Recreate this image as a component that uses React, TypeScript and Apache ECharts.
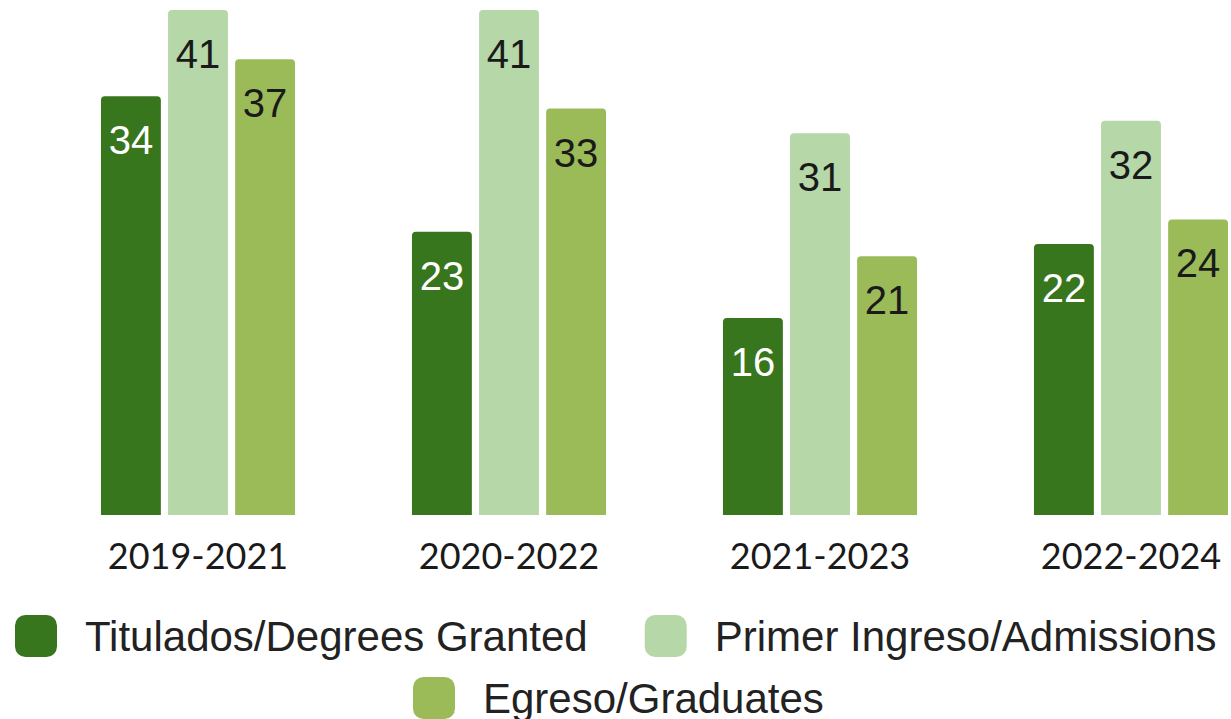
import React, { useEffect, useRef } from "react";
import * as echarts from "echarts";

const categories = ["2019-2021", "2020-2022", "2021-2023", "2022-2024"];
const seriesNames = ["Titulados/Degrees Granted", "Primer Ingreso/Admissions", "Egreso/Graduates"];
const titulados = [34, 23, 16, 22];
const primerIngreso = [41, 41, 31, 32];
const egreso = [37, 33, 21, 24];
const colors = ["#38761d", "#b6d7a8", "#9bbb59"];
const labelColors = ["#ffffff", "#1a1a1a", "#1a1a1a"];

export default function App() {
  const ref = useRef<HTMLDivElement>(null);
  useEffect(() => {
    if (!ref.current) return;
    const chart = echarts.init(ref.current, null, { renderer: "svg" });
    const values = [titulados, primerIngreso, egreso];
    const legendText = {
      fontSize: 42,
      fontFamily: "Liberation Sans",
      color: "#222",
      padding: [0, 0, 0, 23],
    };
    chart.setOption({
      animation: false,
      grid: {
        left: 42.5,
        top: 10,
        width: 1244,
        height: 505,
        containLabel: false,
        outerBoundsMode: "none",
      },
      xAxis: {
        type: "category",
        data: categories,
        axisLine: { show: false },
        axisTick: { show: false },
        axisLabel: {
          margin: 22,
          fontSize: 36,
          color: "#1a1a1a",
          fontFamily: "Lato",
        },
      },
      yAxis: {
        type: "value",
        min: 0,
        max: 41,
        show: false,
        splitLine: { show: false },
      },
      legend: [
        {
          data: [seriesNames[0], seriesNames[1]],
          left: 15,
          top: 615,
          padding: 0,
          itemWidth: 42,
          itemHeight: 42,
          itemGap: 57,
          icon: "roundRect",
          textStyle: legendText,
        },
        {
          data: [seriesNames[2]],
          left: 413,
          top: 677,
          padding: 0,
          itemWidth: 42,
          itemHeight: 42,
          icon: "roundRect",
          textStyle: legendText,
        },
      ],
      series: seriesNames.map((name, i) => ({
        name,
        type: "bar",
        data: values[i],
        barGap: "12%",
        barCategoryGap: "37.6%",
        itemStyle: { color: colors[i], borderRadius: [4, 4, 0, 0] },
        label: {
          show: true,
          position: "insideTop",
          distance: 24,
          fontSize: 40,
          fontFamily: "Liberation Sans",
          color: labelColors[i],
        },
      })),
    });
    return () => chart.dispose();
  }, []);
  return (
    <div
      ref={ref}
      style={{ position: "absolute", left: 0, top: 0, width: 1231, height: 719, background: "#fff" }}
    />
  );
}
